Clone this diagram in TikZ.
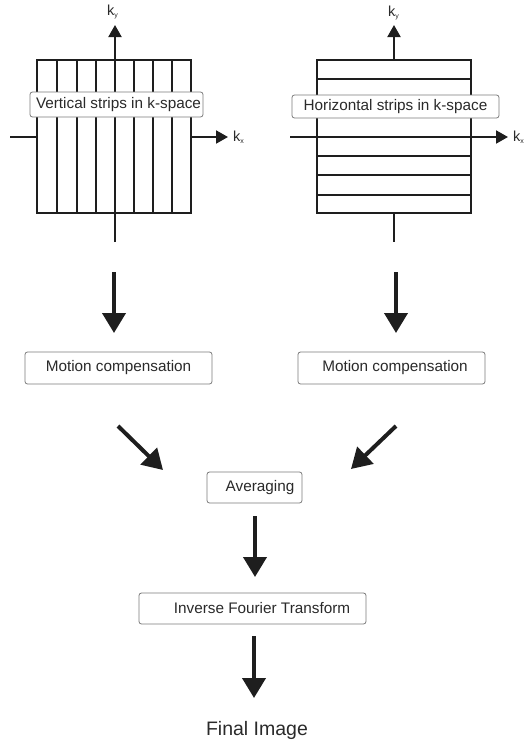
\documentclass[tikz,border=0pt]{standalone}
\usepackage{fontspec}
\setmainfont{Liberation Sans}
\usetikzlibrary{arrows.meta}
\definecolor{ink}{HTML}{1E1E1E}
\definecolor{txt}{HTML}{2A2A2A}
\definecolor{boxline}{HTML}{7A7A7A}
\tikzset{
  gridline/.style={draw=ink, line width=2pt},
  axisarrow/.style={draw=ink, line width=2pt, -{Triangle[width=13pt,length=12pt]}},
  bigarrow/.style={draw=ink, line width=4pt, -{Triangle[width=23pt,length=20pt]}},
  labelbox/.style={draw=boxline, line width=0.8pt, fill=white, rounded corners=2.5pt,
    text=txt, font=\fontsize{15.3}{18}\selectfont, inner sep=0pt},
  klabel/.style={text=txt, font=\fontsize{14.5}{16}\selectfont, inner sep=0pt, anchor=base west},
}
\newcommand{\ksub}[1]{k\raisebox{-2.5pt}{\fontsize{7}{8}\selectfont #1}}
\begin{document}
\begin{tikzpicture}[x=1pt,y=-1pt]
\useasboundingbox (0,0) rectangle (523,742);
% ---- left grid (vertical strips)
\node[gridline, minimum width=154pt, minimum height=153pt, inner sep=0pt] (g1) at (114,136.5) {};
\foreach \x in {57,77,96,134,153,172} \draw[gridline] (\x,60) -- (\x,213);
\coordinate (ky1s) at (115,242);
\coordinate (ky1e) at (115,25);
\draw[axisarrow] (ky1s) -- (ky1e);
\coordinate (kx1a) at (10,137);
\coordinate (kx1b) at (37,137);
\coordinate (kx1c) at (191,137);
\coordinate (kx1e) at (228,137);
\draw[gridline] (kx1a) -- (kx1b);
\draw[axisarrow] (kx1c) -- (kx1e);
\node[klabel] (ky1) at (107,15) {\ksub{y}};
\node[klabel] (kx1) at (233,141) {\ksub{x}};
\node[labelbox, minimum width=173pt, minimum height=25pt] (v) at (116.5,104.5) {\hspace*{4pt}Vertical strips in k-space};
% ---- right grid (horizontal strips)
\node[gridline, minimum width=154pt, minimum height=153pt, inner sep=0pt] (g2) at (394,136.5) {};
\foreach \y in {79,156,175,195} \draw[gridline] (317,\y) -- (471,\y);
\coordinate (ky2a) at (394,60);
\coordinate (ky2e) at (394,25);
\coordinate (ky2b) at (394,213);
\coordinate (ky2c) at (394,242);
\draw[axisarrow] (ky2a) -- (ky2e);
\draw[gridline] (ky2b) -- (ky2c);
\coordinate (kx2s) at (290,137);
\coordinate (kx2e) at (508,137);
\draw[axisarrow] (kx2s) -- (kx2e);
\node[klabel] (ky2) at (388,16) {\ksub{y}};
\node[klabel] (kx2) at (513,141) {\ksub{x}};
\node[labelbox, minimum width=207pt, minimum height=23pt] (h) at (395.5,106.5) {Horizontal strips in k-space};
% ---- flow boxes
\node[labelbox, minimum width=187pt, minimum height=32pt] (mc1) at (118.5,368) {Motion compensation};
\node[labelbox, minimum width=187pt, minimum height=32pt] (mc2) at (391.5,368) {\hspace*{7pt}Motion compensation};
\node[labelbox, minimum width=95pt, minimum height=31pt] (avg) at (254.5,487.5) {\hspace*{11pt}Averaging};
\node[labelbox, minimum width=227pt, minimum height=31pt] (ift) at (252.5,608.5) {\hspace*{19pt}Inverse Fourier Transform};
\node[text=txt, font=\fontsize{19.5}{22}\selectfont, inner sep=0pt] (fin) at (257,730) {Final Image};
% ---- arrows
\coordinate (a1s) at (114,272); \coordinate (a1e) at (114,333);
\coordinate (a2s) at (396,272); \coordinate (a2e) at (396,333);
\coordinate (d1s) at (118,426); \coordinate (d1e) at (163,470);
\coordinate (d2s) at (396,426); \coordinate (d2e) at (351,469);
\coordinate (a3s) at (255,516); \coordinate (a3e) at (255,577);
\coordinate (a4s) at (254,636); \coordinate (a4e) at (254,698);
\draw[bigarrow] (a1s) -- (a1e);
\draw[bigarrow] (a2s) -- (a2e);
\draw[bigarrow] (d1s) -- (d1e);
\draw[bigarrow] (d2s) -- (d2e);
\draw[bigarrow] (a3s) -- (a3e);
\draw[bigarrow] (a4s) -- (a4e);
\end{tikzpicture}
\end{document}
